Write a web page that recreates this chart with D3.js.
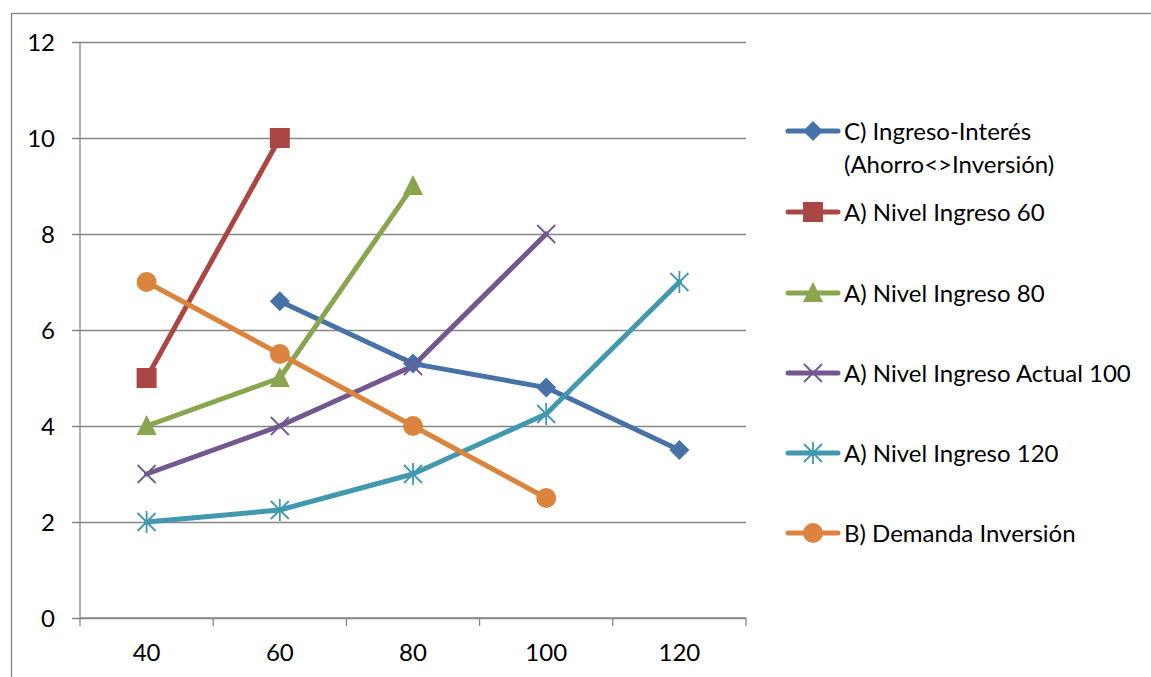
<!DOCTYPE html>
<html>
<head>
<meta charset="utf-8">
<script src="https://cdn.jsdelivr.net/npm/d3@7"></script>
<style>
  html, body { margin: 0; padding: 0; background: #fff; }
  svg { display: block; }
  text { font-family: Lato, "Open Sans", sans-serif; fill: #000; }
</style>
</head>
<body>
<svg id="chart" width="1151" height="677"></svg>
<script>
// Income levels on the horizontal axis
const categories = [40, 60, 80, 100, 120];
const yTicks = [0, 2, 4, 6, 8, 10, 12];

// Interest-rate values per series (null = no point at that income level)
const ingresoInteres   = [null, 6.6, 5.3, 4.8, 3.5];
const nivelIngreso60   = [5, 10, null, null, null];
const nivelIngreso80   = [4, 5, 9, null, null];
const nivelIngreso100  = [3, 4, 5.25, 8, null];
const nivelIngreso120  = [2, 2.25, 3, 4.25, 7];
const demandaInversion = [7, 5.5, 4, 2.5, null];

const series = [
  { name: ["C) Ingreso-Interés", "(Ahorro<>Inversión)"], values: ingresoInteres, color: "#4672A8", marker: "diamond" },
  { name: ["A) Nivel Ingreso 60"], values: nivelIngreso60, color: "#AA4643", marker: "square" },
  { name: ["A) Nivel Ingreso 80"], values: nivelIngreso80, color: "#89A54E", marker: "triangle" },
  { name: ["A) Nivel Ingreso Actual 100"], values: nivelIngreso100, color: "#71588F", marker: "x" },
  { name: ["A) Nivel Ingreso 120"], values: nivelIngreso120, color: "#4198AF", marker: "star" },
  { name: ["B) Demanda Inversión"], values: demandaInversion, color: "#DB843D", marker: "circle" }
];

const svg = d3.select("#chart");
const plot = { left: 80, right: 746, top: 42, bottom: 618 };
const axisColor = "#868686";
const fontSize = "24px";

// Outer frame
svg.append("rect")
  .attr("x", 11.5).attr("y", 13.5)
  .attr("width", 1200).attr("height", 700)
  .attr("fill", "none").attr("stroke", axisColor).attr("stroke-width", 1.3);

const x = d3.scaleBand().domain(categories).range([plot.left, plot.right]);
const y = d3.scaleLinear().domain([0, 12]).range([plot.bottom, plot.top]);

// Horizontal gridlines with short outer ticks
const yAxis = d3.axisLeft(y).tickValues(yTicks).tickSize(-(plot.right - plot.left)).tickPadding(0).tickFormat("");
const gy = svg.append("g").attr("transform", `translate(${plot.left},0)`).call(yAxis);
gy.select(".domain").remove();
gy.selectAll(".tick line").attr("stroke", axisColor).attr("stroke-width", 1.3).attr("x1", -8);
gy.selectAll(".tick").append("text")
  .attr("x", -25).attr("dy", "0.36em")
  .attr("text-anchor", "end")
  .style("font-size", fontSize)
  .text(d => d);

// Vertical axis line
svg.append("line")
  .attr("x1", plot.left).attr("x2", plot.left)
  .attr("y1", plot.top).attr("y2", plot.bottom)
  .attr("stroke", axisColor).attr("stroke-width", 1.3);

// Category axis with boundary ticks
const gx = svg.append("g").attr("transform", `translate(0,${plot.bottom})`);
gx.append("line").attr("x1", plot.left).attr("x2", plot.right)
  .attr("stroke", axisColor).attr("stroke-width", 1.3);
const bounds = categories.map(c => x(c)).concat([plot.right]);
gx.selectAll("line.tick").data(bounds).join("line")
  .attr("class", "tick")
  .attr("x1", d => d).attr("x2", d => d)
  .attr("y1", 0).attr("y2", 8)
  .attr("stroke", axisColor).attr("stroke-width", 1.3);
gx.selectAll("text").data(categories).join("text")
  .attr("x", d => x(d) + x.bandwidth() / 2)
  .attr("y", 34).attr("dy", "0.36em")
  .attr("text-anchor", "middle")
  .style("font-size", fontSize)
  .text(d => d);

const cx = c => x(c) + x.bandwidth() / 2;

function drawMarker(g, type, color) {
  switch (type) {
    case "diamond":
      g.append("path").attr("d", "M0,-10L10,0L0,10L-10,0Z").attr("fill", color); break;
    case "square":
      g.append("rect").attr("x", -10).attr("y", -10).attr("width", 20).attr("height", 20).attr("fill", color); break;
    case "triangle":
      g.append("path").attr("d", "M0,-11L10,9L-10,9Z").attr("fill", color); break;
    case "x":
      g.append("path").attr("d", "M-9,-9L9,9M-9,9L9,-9").attr("stroke", color).attr("stroke-width", 1.8).attr("fill", "none"); break;
    case "star":
      g.append("path").attr("d", "M-9,-9L9,9M-9,9L9,-9M0,-11L0,11").attr("stroke", color).attr("stroke-width", 1.8).attr("fill", "none"); break;
    case "circle":
      g.append("circle").attr("r", 10).attr("fill", color); break;
  }
}

const line = d3.line()
  .defined(d => d.v !== null)
  .x(d => cx(d.c))
  .y(d => y(d.v));

series.forEach(s => {
  const pts = categories.map((c, i) => ({ c, v: s.values[i] }));
  svg.append("path")
    .datum(pts)
    .attr("d", line)
    .attr("fill", "none")
    .attr("stroke", s.color)
    .attr("stroke-width", 5)
    .attr("stroke-linejoin", "round")
    .attr("stroke-linecap", "round");
});

series.forEach(s => {
  categories.forEach((c, i) => {
    if (s.values[i] === null) return;
    const g = svg.append("g").attr("transform", `translate(${cx(c)},${y(s.values[i])})`);
    drawMarker(g, s.marker, s.color);
  });
});

// Legend
const legendY = [131, 212, 293, 373, 453, 533];
series.forEach((s, i) => {
  const g = svg.append("g").attr("transform", `translate(0,${legendY[i]})`);
  g.append("line").attr("x1", 788).attr("x2", 838)
    .attr("stroke", s.color).attr("stroke-width", 5).attr("stroke-linecap", "round");
  const mg = g.append("g").attr("transform", "translate(813,0)");
  drawMarker(mg, s.marker, s.color);
  s.name.forEach((t, j) => {
    g.append("text")
      .attr("x", 844).attr("y", j * 33).attr("dy", "0.36em")
      .style("font-size", fontSize)
      .text(t);
  });
});
</script>
</body>
</html>
